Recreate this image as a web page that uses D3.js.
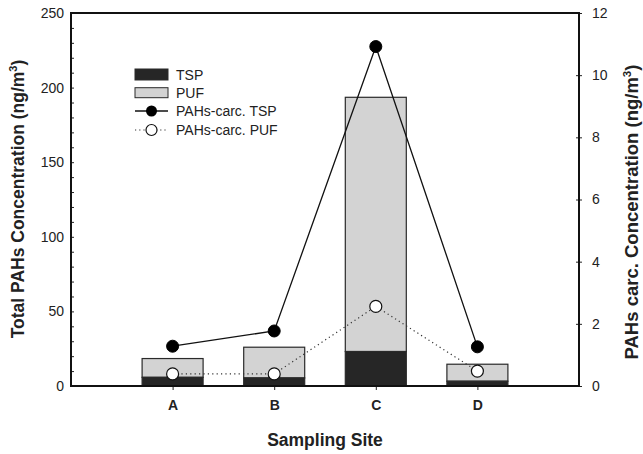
<!DOCTYPE html>
<html><head><meta charset="utf-8">
<script src="https://cdn.jsdelivr.net/npm/d3@7"></script>
<style>body{margin:0;background:#fff}svg{display:block;font-family:"Liberation Sans",Arial,sans-serif}</style>
</head><body><svg id="c" width="643" height="454"></svg>
<script>
const sites = ["A","B","C","D"];
const tspTotal = [5.8, 5.4, 23.1, 3.2];
const pufTotal = [12.6, 20.6, 170.4, 11.4];
const carcTSP = [1.28, 1.77, 10.92, 1.26];
const carcPUF = [0.39, 0.39, 2.56, 0.48];
const leftTicks = [0,50,100,150,200,250];
const rightTicks = [0,2,4,6,8,10,12];
const legendLabels = ["TSP","PUF","PAHs-carc. TSP","PAHs-carc. PUF"];

const svg = d3.select("#c");
const L=71, R=579, T=13, B=386;
const x = d3.scaleLinear().domain([0,5]).range([L,R]);
const yL = d3.scaleLinear().domain([0,250]).range([B,T]);
const yR = d3.scaleLinear().domain([0,12]).range([B,T]);
const bw = 61;
const FF = "Liberation Sans,Arial,sans-serif";

// bars
const g = svg.append("g");
sites.forEach((s,i)=>{
  const cx = x(i+1);
  g.append("rect").attr("x",cx-bw/2).attr("width",bw)
    .attr("y",yL(tspTotal[i]+pufTotal[i])).attr("height",yL(tspTotal[i])-yL(tspTotal[i]+pufTotal[i]))
    .attr("fill","#d3d3d3").attr("stroke","#2a2a2a").attr("stroke-width",1.2);
  g.append("rect").attr("x",cx-bw/2).attr("width",bw)
    .attr("y",yL(tspTotal[i])).attr("height",yL(0)-yL(tspTotal[i]))
    .attr("fill","#262626").attr("stroke","#2a2a2a").attr("stroke-width",1.2);
});

// lines
const line = d3.line().x((d,i)=>x(i+1)).y(d=>yR(d));
svg.append("path").datum(carcPUF).attr("d",line).attr("fill","none").attr("stroke","#333").attr("stroke-width",1.2).attr("stroke-dasharray","1.2,3.2");
svg.append("path").datum(carcTSP).attr("d",line).attr("fill","none").attr("stroke","#111").attr("stroke-width",1.3);
svg.selectAll(".pt").data(carcTSP).join("circle").attr("cx",(d,i)=>x(i+1)).attr("cy",d=>yR(d)).attr("r",6).attr("fill","#000").attr("stroke","#000");
svg.selectAll(".pu").data(carcPUF).join("circle").attr("cx",(d,i)=>x(i+1)).attr("cy",d=>yR(d)).attr("r",6).attr("fill","#fff").attr("stroke","#111").attr("stroke-width",1.2);

// axes
const ax = svg.append("g");
const leftMinor = d3.range(0,251,10);
ax.append("g").attr("transform",`translate(${L},0)`)
  .call(d3.axisLeft(yL).tickValues(leftMinor).tickSize(-3).tickFormat(""))
  .call(g=>g.select(".domain").remove()).selectAll("line").attr("stroke","#222");
ax.append("g").attr("transform",`translate(${L},0)`)
  .call(d3.axisLeft(yL).tickValues(leftTicks).tickSize(0).tickPadding(7))
  .call(g=>g.select(".domain").remove())
  .selectAll("text").attr("font-size",14).attr("fill","#222").attr("font-family",FF);
ax.append("g").attr("transform",`translate(${R},0)`)
  .call(d3.axisRight(yR).tickValues(rightTicks).tickSize(3).tickPadding(10))
  .call(g=>g.select(".domain").remove())
  .call(g=>g.selectAll("line").attr("x1",-3).attr("stroke","#222"))
  .selectAll("text").attr("font-size",14).attr("fill","#222").attr("font-family",FF);
ax.append("g").attr("transform",`translate(0,${B})`)
  .call(d3.axisBottom(x).tickValues([1,2,3,4]).tickSize(4).tickPadding(10).tickFormat((d)=>sites[d-1]))
  .call(g=>g.select(".domain").remove())
  .call(g=>g.selectAll("line").attr("stroke","#222"))
  .selectAll("text").attr("font-size",14).attr("font-weight","bold").attr("fill","#222").attr("font-family",FF);

// frame
svg.append("rect").attr("x",L).attr("y",T).attr("width",R-L).attr("height",B-T).attr("fill","none").attr("stroke","#111").attr("stroke-width",2);

// titles
svg.append("text").attr("x",(L+R)/2).attr("y",446).attr("text-anchor","middle").attr("font-size",17.5).attr("font-weight","bold").attr("fill","#222").text("Sampling Site");
const lt = svg.append("text").attr("transform",`translate(24,199) rotate(-90)`).attr("text-anchor","middle").attr("font-size",17.5).attr("font-weight","bold").attr("fill","#222");
lt.append("tspan").text("Total PAHs Concentration (ng/m");
lt.append("tspan").attr("dy",-7).attr("font-size",11).text("3");
lt.append("tspan").attr("dy",7).text(")");
const rt = svg.append("text").attr("transform",`translate(638,212) rotate(-90)`).attr("text-anchor","middle").attr("font-size",18.5).attr("font-weight","bold").attr("fill","#222");
rt.append("tspan").text("PAHs carc. Concentration (ng/m");
rt.append("tspan").attr("dy",-7).attr("font-size",11.5).text("3");
rt.append("tspan").attr("dy",7).text(")");

// legend
const lg = svg.append("g");
const ly = [74.5, 92.7, 111, 130];
lg.append("rect").attr("x",135).attr("y",ly[0]-5.5).attr("width",33).attr("height",11).attr("fill","#262626").attr("stroke","#2a2a2a");
lg.append("rect").attr("x",135).attr("y",ly[1]-5).attr("width",33).attr("height",10).attr("fill","#d3d3d3").attr("stroke","#2a2a2a");
lg.append("line").attr("x1",135).attr("x2",168).attr("y1",ly[2]).attr("y2",ly[2]).attr("stroke","#111").attr("stroke-width",1.3);
lg.append("circle").attr("cx",151.5).attr("cy",ly[2]).attr("r",5.5).attr("fill","#000");
lg.append("line").attr("x1",135).attr("x2",168).attr("y1",ly[3]).attr("y2",ly[3]).attr("stroke","#333").attr("stroke-width",1.2).attr("stroke-dasharray","1.2,3");
lg.append("circle").attr("cx",151.5).attr("cy",ly[3]).attr("r",5.5).attr("fill","#fff").attr("stroke","#111").attr("stroke-width",1.2);
legendLabels.forEach((t,i)=>lg.append("text").attr("x",176).attr("y",ly[i]+5).attr("font-size",14).attr("fill","#222").text(t));
</script></body></html>
